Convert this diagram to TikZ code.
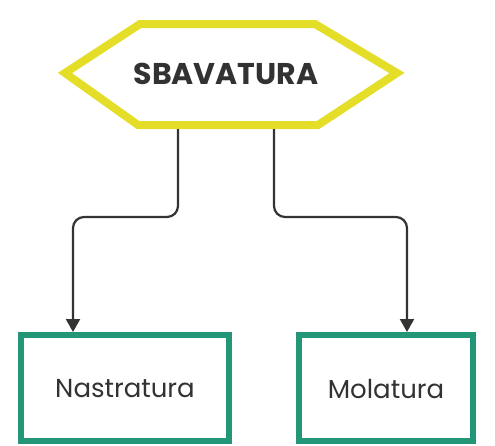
\documentclass[tikz,border=0pt]{standalone}
\usepackage{fontspec}
\setmainfont{Poppins}
\usetikzlibrary{arrows.meta}
\definecolor{hexyellow}{RGB}{228,222,40}
\definecolor{boxteal}{RGB}{34,150,118}
\definecolor{linegray}{RGB}{51,51,51}
\definecolor{textgray}{RGB}{50,50,50}
\begin{document}
\begin{tikzpicture}[x=1pt,y=-1pt,
  hexline/.style={draw=hexyellow,line width=8pt,line join=miter},
  leafbox/.style={draw=boxteal,line width=6pt},
  conn/.style={draw=linegray,line width=2.2pt,rounded corners=11pt,-{Triangle[length=13pt,width=14pt]}},
  lbl/.style={text=textgray,font=\fontsize{26}{30}\selectfont}]
\useasboundingbox (0,0) rectangle (495,445);
% hexagon
\draw[hexline] (65,73) -- (140,24) -- (315,24) -- (397,73) -- (318,125) -- (138,125) -- cycle;
\node[lbl,font=\fontsize{30}{34}\selectfont\bfseries] (top) at (226,74) {SBAVATURA};
\coordinate (tl) at (178,129);
\coordinate (tr) at (274,129);
% boxes
\draw[leafbox] (21,335) rectangle (229,441);
\draw[leafbox] (299,335) rectangle (473,441);
\node[lbl] (n1) at (125,389) {Nastratura};
\node[lbl] (n2) at (386,389) {Molatura};
\coordinate (b1) at (73,332);
\coordinate (b2) at (407,332);
\draw[conn] (tl) -- (178,217) -- (73,217) -- (b1);
\draw[conn] (tr) -- (274,217) -- (407,217) -- (b2);
\end{tikzpicture}
\end{document}
